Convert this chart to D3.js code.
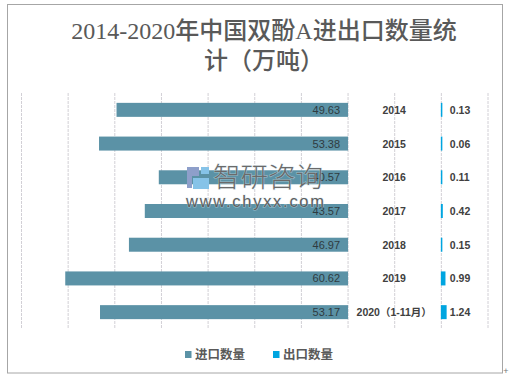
<!DOCTYPE html>
<html><head><meta charset="utf-8">
<script src="https://cdn.jsdelivr.net/npm/d3@7"></script>
<style>html,body{margin:0;padding:0;background:#fff}svg{display:block}</style></head>
<body><svg id="c" width="509" height="378"></svg>
<script>
const categories=["2014","2015","2016","2017","2018","2019","2020（1-11月）"];
const imports=[49.63,53.38,40.57,43.57,46.97,60.62,53.17];
const exportsV=[0.13,0.06,0.11,0.42,0.15,0.99,1.24];
const gridTicks=d3.range(-70,31,10);
const titleLines=["2014-2020年中国双酚A进出口数量统","计（万吨）"];
const seriesNames=["进口数量","出口数量"];
const IMP="#5b92a6",EXP="#00a5e0";
const FF="'Liberation Sans','Noto Sans CJK SC',sans-serif";
const svg=d3.select("#c");
svg.append("rect").attr("x",7.5).attr("y",4.5).attr("width",495).attr("height",368.5).attr("fill","#fff").attr("stroke","#a6a6a6").attr("stroke-width",1);
svg.append("text").attr("x",506).attr("y",374).attr("font-size",9).attr("font-family",FF).attr("fill","#777").attr("text-anchor","middle").text("+");
const x=d3.scaleLinear().domain([-70,30]).range([21.5,488]);
const y=d3.scaleBand().domain(categories).range([93,329]);
svg.append("g").selectAll("line").data(gridTicks).join("line")
 .attr("x1",d=>x(d)).attr("x2",d=>x(d)).attr("y1",y.range()[0]).attr("y2",y.range()[1])
 .attr("stroke","#d2d0d6").attr("stroke-width",1).attr("stroke-dasharray","3 1");
const h=14;
svg.append("g").selectAll("rect").data(imports).join("rect")
 .attr("x",d=>x(-d)).attr("width",d=>x(0)-x(-d))
 .attr("y",(d,i)=>y(categories[i])+y.bandwidth()/2-h/2).attr("height",h).attr("fill",IMP);
svg.append("g").selectAll("rect").data(exportsV).join("rect")
 .attr("x",x(20)-.5).attr("width",d=>Math.max(x(20+d)-x(20),1.5))
 .attr("y",(d,i)=>y(categories[i])+y.bandwidth()/2-h/2).attr("height",h).attr("fill",EXP);
const lab=svg.append("g").attr("font-family",FF).attr("font-size",11).attr("font-weight",700).attr("fill","#404040");
lab.selectAll(".i").data(imports).join("text").attr("class","i")
 .attr("x",x(0)-8).attr("text-anchor","end").attr("font-weight",400).attr("font-size",11).attr("fill","#2f3b40")
 .attr("y",(d,i)=>y(categories[i])+y.bandwidth()/2+4).text(d=>d.toFixed(2));
lab.selectAll(".c").data(categories).join("text").attr("class","c")
 .attr("x",x(10)-.5).attr("text-anchor","middle").attr("font-size",10.5)
 .attr("y",d=>y(d)+y.bandwidth()/2+4).text(d=>d);
lab.selectAll(".e").data(exportsV).join("text").attr("class","e")
 .attr("x",x(20)+8.5).attr("y",(d,i)=>y(categories[i])+y.bandwidth()/2+4).attr("font-size",10.5).text(d=>d.toFixed(2));
svg.append("g").attr("font-family","'Liberation Serif','Noto Sans CJK SC',serif").attr("font-size",24).attr("fill","#595959").attr("text-anchor","middle").attr("font-weight",500)
 .selectAll("text").data(titleLines).join("text").attr("x",264).attr("y",(d,i)=>39+i*30).text(d=>d);
const legX=[185,273],legC=[IMP,EXP];
const leg=svg.append("g");
leg.selectAll("rect").data(seriesNames).join("rect").attr("x",(d,i)=>legX[i]).attr("y",351).attr("width",6.5).attr("height",7).attr("fill",(d,i)=>legC[i]);
leg.selectAll("text").data(seriesNames).join("text").attr("x",(d,i)=>legX[i]+10).attr("y",359).attr("font-family",FF).attr("font-size",12.5).attr("font-weight",700).attr("fill","#595959").text(d=>d);
const wm=svg.append("g");
const halo=(s,c)=>s.attr("fill",c).attr("stroke","#cfe3ea").attr("stroke-width",1.2).attr("stroke-opacity",.55).attr("paint-order","stroke");
wm.append("rect").attr("x",187).attr("y",167).attr("width",12).attr("height",9).attr("fill","#8e9fca");
wm.append("rect").attr("x",187).attr("y",176).attr("width",5).attr("height",12).attr("fill","#8e9fca");
wm.append("rect").attr("x",201).attr("y",167).attr("width",8).attr("height",7).attr("fill","#86c3e8");
wm.append("rect").attr("x",193).attr("y",178).attr("width",16).attr("height",11).attr("fill","#86c3e8");
wm.append("text").attr("x",213).attr("y",187).attr("font-family","'Noto Sans CJK SC'").attr("font-size",27.5).attr("font-weight",300).call(halo,"#6a6a6a").text("智研咨询");
wm.append("text").attr("x",186).attr("y",207).attr("font-family","'Liberation Sans'").attr("font-size",16.5).attr("textLength",138).call(halo,"#5f5f5f").text("www.chyxx.com");
</script></body></html>
